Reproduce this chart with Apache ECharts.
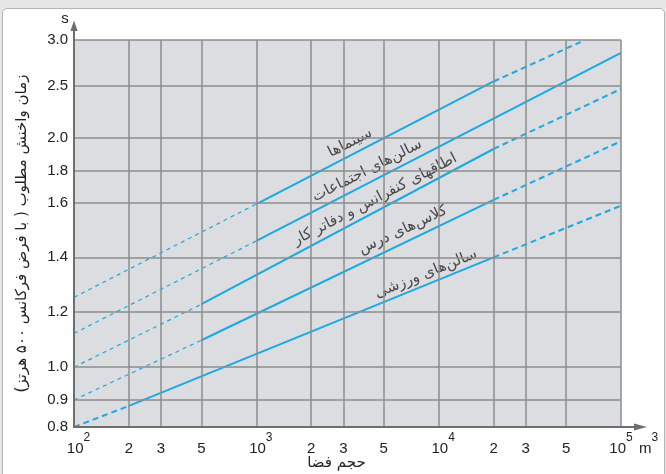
<!DOCTYPE html>
<html>
<head>
<meta charset="utf-8">
<script src="https://cdn.jsdelivr.net/npm/echarts@6/dist/echarts.min.js"></script>
<style>
html,body{margin:0;padding:0;width:666px;height:474px;overflow:hidden;background:#e6e6e6;}
#frame{position:absolute;left:2px;top:8px;width:661px;height:490px;background:#ffffff;border:1px solid #b4b4b4;border-radius:5px;}
#chart{position:absolute;left:0;top:0;width:666px;height:474px;}
</style>
</head>
<body>
<div id="frame"></div>
<div id="chart"></div>
<script>
// ---------- data (room volume in m³, reverberation time in s) ----------
const lineNames = ['سینماها', 'سالن\u200cهای اجتماعات', 'اطاقهای کنفرانس و دفاتر کار', 'کلاس\u200cهای درس', 'سالن\u200cهای ورزشی'];

// break points of each curve: [lead dashed start, solid start, solid end, trailing dashed end]
const volCinema      = [100, 1000, 20000, 60000];
const timeCinema     = [1.254, 1.595, 2.547, 2.978];
const volAssembly    = [100, 1000, 100000];
const timeAssembly   = [1.123, 1.46, 2.86];
const volConference  = [100, 500, 20000, 100000];
const timeConference = [1.0, 1.229, 1.932, 2.47];
const volClassroom   = [100, 500, 20000, 100000];
const timeClassroom  = [0.9, 1.098, 1.617, 1.98];
const volSports      = [100, 200, 20000, 100000];
const timeSports     = [0.8, 0.878, 1.40, 1.589];

// label anchor points (data units)
const labelVol  = [3270, 4050, 4480, 6370, 8530];
const labelTime = [1.97, 1.80, 1.62, 1.50, 1.34];

// tick labels
const xTickVolumes = [100, 200, 300, 500, 1000, 2000, 3000, 5000, 10000, 20000, 30000, 50000, 100000];
const yTickTimes   = [0.8, 0.9, 1.0, 1.2, 1.4, 1.6, 1.8, 2.0, 2.5, 3.0];

// ---------- scales ----------
// x: logarithmic (decades)
function xv(v) { return Math.round(Math.log10(v) * 1e9) / 1e9; }
// y: the printed, non-uniform time scale of the original chart (relative height of each tick)
const yScaleStops = [0, 0.0699, 0.1545, 0.2968, 0.4384, 0.5797, 0.6625, 0.7471, 0.8817, 1];
function yv(t) {
  const T = yTickTimes, S = yScaleStops;
  let i = 0;
  while (i < T.length - 2 && t > T[i + 1]) i++;
  return S[i] + (S[i + 1] - S[i]) * (t - T[i]) / (T[i + 1] - T[i]);
}

const xTicksAxis = xTickVolumes.map(xv);
const yTicksAxis = yTickTimes.map(yv);

const blue = '#1aa9e2';
const styles = {
  thin:  { color: blue, width: 1.2, type: [4, 4] },
  solid: { color: blue, width: 2, type: 'solid' },
  thick: { color: blue, width: 2, type: [6, 4] }
};

const curves = [
  { v: volCinema, t: timeCinema, lead: 'thin' },
  { v: volAssembly, t: timeAssembly, lead: 'thin' },
  { v: volConference, t: timeConference, lead: 'thin' },
  { v: volClassroom, t: timeClassroom, lead: 'thin' },
  { v: volSports, t: timeSports, lead: 'thick' }
];

const series = [];
curves.forEach((c, k) => {
  const pts = c.v.map((v, i) => [xv(v), yv(c.t[i])]);
  const segs = [[0, 1, c.lead], [1, 2, 'solid']];
  if (pts.length > 3) segs.push([2, 3, 'thick']);
  segs.forEach(s => {
    series.push({
      type: 'line', name: lineNames[k], data: [pts[s[0]], pts[s[1]]],
      symbol: 'none', silent: true, lineStyle: styles[s[2]], z: 3
    });
  });
});

const labelRotate = [27, 27, 27.5, 25, 22];
series.push({
  type: 'scatter', symbolSize: 0.1, silent: true, z: 4,
  itemStyle: { color: 'transparent' },
  data: labelVol.map((v, i) => ({
    value: [xv(v), yv(labelTime[i])], name: lineNames[i],
    label: { rotate: labelRotate[i] }
  })),
  label: {
    show: true, position: 'inside', formatter: '{b}',
    fontSize: 15, color: '#222', fontFamily: 'DejaVu Sans'
  }
});

function xLabel(val) {
  let idx = 0, best = 1e9;
  xTicksAxis.forEach((a, i) => { const d = Math.abs(a - val); if (d < best) { best = d; idx = i; } });
  const vol = xTickVolumes[idx];
  const e = Math.floor(Math.log10(vol) + 1e-9);
  const m = Math.round(vol / Math.pow(10, e));
  if (m === 1) return (e === 5 ? '{n|10}' : '{q|10}') + '{p|' + e + '}';
  return '{n|' + m + '}';
}
function yLabel(val) {
  let idx = 0, best = 1e9;
  yTicksAxis.forEach((a, i) => { const d = Math.abs(a - val); if (d < best) { best = d; idx = i; } });
  return yTickTimes[idx].toFixed(1);
}

const numFont = 'Liberation Sans';
const rich = {
  n: { fontSize: 15, fontFamily: numFont, color: '#222', lineHeight: 22, verticalAlign: 'bottom' },
  q: { fontSize: 15, fontFamily: numFont, color: '#222', lineHeight: 22, verticalAlign: 'bottom', padding: [0, 0, 0, 9] },
  p: { fontSize: 12, fontFamily: numFont, color: '#222', lineHeight: 10, verticalAlign: 'bottom', padding: [0, 0, 12, 0] }
};

const axisColor = '#6e6e6e';
const gridColor = '#8d8d8d';

const chart = echarts.init(document.getElementById('chart'), null, { renderer: 'canvas' });
chart.setOption({
  animation: false,
  grid: { left: 74, right: 45, top: 40, bottom: 47, show: true, backgroundColor: '#dcdde0', borderWidth: 0, outerBoundsMode: 'none' },
  xAxis: [{
    type: 'value', min: 2, max: 5, position: 'bottom',
    axisLine: { show: true, onZero: false, lineStyle: { color: axisColor, width: 2 } },
    axisTick: { show: false, customValues: xTicksAxis },
    axisLabel: { customValues: xTicksAxis, formatter: xLabel, rich: rich, margin: 7, verticalAlign: 'top' },
    splitLine: { show: true, lineStyle: { color: gridColor, width: 1.5 } },
    name: '{n|m}{p|3}', nameLocation: 'end', nameGap: 18,
    nameTextStyle: { rich: rich, align: 'left', verticalAlign: 'top', padding: [7, 0, 0, 0] },
    z: 5
  }, {
    type: 'value', min: 0, max: 1, position: 'bottom',
    axisLine: { show: false }, axisTick: { show: false }, axisLabel: { show: false }, splitLine: { show: false },
    name: 'حجم فضا', nameLocation: 'middle', nameGap: 29,
    nameTextStyle: { fontSize: 15, fontFamily: 'DejaVu Sans', color: '#222', padding: [0, 22, 0, 0] }
  }],
  yAxis: [{
    type: 'value', min: 0, max: 1, position: 'left',
    axisLine: { show: true, onZero: false, lineStyle: { color: axisColor, width: 2 } },
    axisTick: { show: false, customValues: yTicksAxis },
    axisLabel: { customValues: yTicksAxis, formatter: yLabel, margin: 6, fontSize: 15, fontFamily: numFont, color: '#222' },
    splitLine: { show: true, lineStyle: { color: gridColor, width: 1.5 } },
    name: 's', nameLocation: 'end', nameGap: 14,
    nameTextStyle: { fontSize: 15, fontFamily: numFont, color: '#222', padding: [0, 18, 0, 0] },
    z: 5
  }, {
    type: 'value', min: 0, max: 1, position: 'left',
    axisLine: { show: false }, axisTick: { show: false }, axisLabel: { show: false }, splitLine: { show: false },
    name: 'زمان واخنش مطلوب ( با فرض فرکانس ۵۰۰ هرتز)', nameLocation: 'middle', nameGap: 44, nameRotate: 90,
    nameTextStyle: { fontSize: 15, fontFamily: 'DejaVu Sans', color: '#222' }
  }],
  series: series
});

// axis arrows extending beyond the plot frame
const br = chart.convertToPixel({ xAxisIndex: 0, yAxisIndex: 0 }, [5, 0]);
const tl = chart.convertToPixel({ xAxisIndex: 0, yAxisIndex: 0 }, [2, 1]);
chart.setOption({
  graphic: [
    { type: 'line', shape: { x1: br[0], y1: br[1], x2: br[0] + 14, y2: br[1] }, style: { stroke: axisColor, lineWidth: 2 }, z: 10 },
    { type: 'polygon', shape: { points: [[br[0] + 26, br[1]], [br[0] + 13, br[1] - 3.6], [br[0] + 13, br[1] + 3.6]] }, style: { fill: axisColor }, z: 10 },
    { type: 'line', shape: { x1: tl[0], y1: tl[1], x2: tl[0], y2: tl[1] - 10 }, style: { stroke: axisColor, lineWidth: 2 }, z: 10 },
    { type: 'polygon', shape: { points: [[tl[0], tl[1] - 19.5], [tl[0] - 3.6, tl[1] - 9], [tl[0] + 3.6, tl[1] - 9]] }, style: { fill: axisColor }, z: 10 }
  ]
});
</script>
</body>
</html>
